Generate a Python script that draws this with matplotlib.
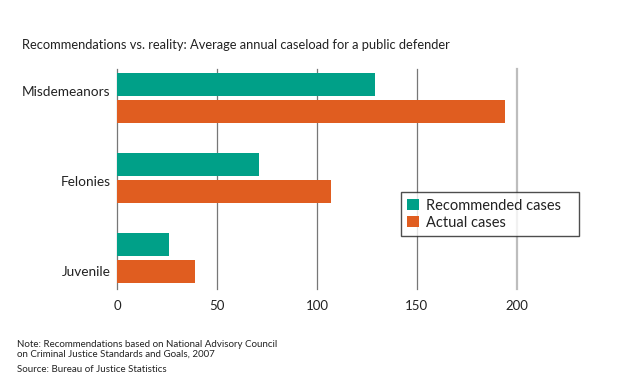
import matplotlib
matplotlib.use("Agg")
import matplotlib.pyplot as plt
import numpy as np
from matplotlib.patches import Patch

# --- Data ---
categories = ["Misdemeanors", "Felonies", "Juvenile"]
recommended = [129, 71, 26]
actual = [194, 107, 39]
series_names = ["Recommended cases", "Actual cases"]
xticks = [0, 50, 100, 150, 200]

title = "Recommendations vs. reality: Average annual caseload for a public defender"
note = ("Note: Recommendations based on National Advisory Council\n"
        "on Criminal Justice Standards and Goals, 2007")
source = "Source: Bureau of Justice Statistics"

# --- Style ---
plt.rcParams["font.family"] = ["Lato", "DejaVu Sans"]
green = "#00a088"
orange = "#e05d20"
text_col = "#222222"

fig = plt.figure(figsize=(6.3, 3.8), dpi=100)
ax = fig.add_axes([0.1862, 0.2395, 0.634, 0.5789])

y = np.arange(len(categories))
bh = 0.2875
off = 0.169
ax.barh(y - off, recommended, height=bh, color=green, zorder=3)
ax.barh(y + off, actual, height=bh, color=orange, zorder=3)

# gridlines (last one lighter, like the reference)
for v in xticks:
    if v == xticks[-1]:
        ax.axvline(v, color="#bdbdbd", lw=1.6, zorder=1, clip_on=False)
    else:
        ax.axvline(v, color="#777777", lw=0.9, zorder=1, clip_on=False)

ax.set_xlim(0, 200)
ax.set_ylim(2.39, -0.3625)
ax.set_xticks(xticks)
ax.set_xticklabels([str(v) for v in xticks], fontsize=9.5, color=text_col)

# category labels sit a bit off the group centres in the original
label_shift = [-0.09, 0.04, 0.17]
ax.set_yticks(y + np.array(label_shift))
ax.set_yticklabels(categories, fontsize=9.8, color=text_col)
ax.tick_params(axis="both", length=0)
ax.tick_params(axis="y", pad=5)
ax.tick_params(axis="x", pad=8)
for s in ax.spines.values():
    s.set_visible(False)

handles = [Patch(facecolor=green, edgecolor="none"),
           Patch(facecolor=orange, edgecolor="none")]
leg = ax.legend(handles, series_names, loc="upper left",
                bbox_to_anchor=(400.7 / 630, 1 - 246.7 / 380, 178.6 / 630, 54.4 / 380),
                bbox_transform=fig.transFigure, mode="expand",
                fontsize=10.5, frameon=True, fancybox=False,
                handlelength=0.8, handleheight=0.8, handletextpad=0.5,
                borderpad=0.45, labelspacing=0.2, borderaxespad=0)
leg.get_frame().set_edgecolor("#222222")
leg.get_frame().set_linewidth(1.0)
for t in leg.get_texts():
    t.set_color(text_col)

fig.text(22 / 630, 1 - 45 / 380, title, fontsize=9.3, color=text_col,
         ha="left", va="center")
fig.text(17 / 630, 1 - 340 / 380, note, fontsize=7.0, color=text_col,
         ha="left", va="top", linespacing=1.05)
fig.text(17 / 630, 1 - 370 / 380, source, fontsize=7.0, color=text_col,
         ha="left", va="center")

fig.savefig("out.png", dpi=100)
